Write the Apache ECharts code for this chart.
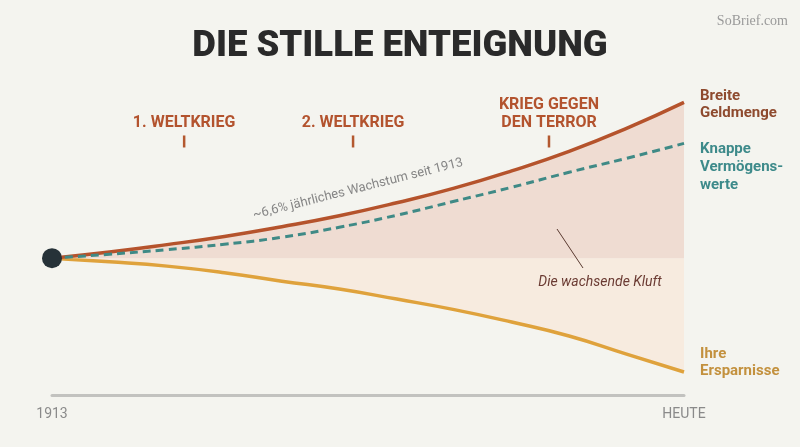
<!DOCTYPE html>
<html>
<head>
<meta charset="utf-8">
<script src="https://cdn.jsdelivr.net/npm/echarts@6/dist/echarts.min.js"></script>
<style>
  html, body { margin: 0; padding: 0; background: #f4f4ef; }
  #chart { width: 800px; height: 447px; }
</style>
</head>
<body>
<div id="chart"></div>
<script>
// Jahre (1913 bis heute), Index 1913 = 100
var years = [1913, 1923, 1933, 1943, 1953, 1963, 1973, 1983, 1993, 2003, 2013, 2023];
var geldmenge = [100, 104.5, 109.9, 115.9, 123, 131, 140.5, 151.2, 163.8, 178.1, 194.9, 213.9];
var vermoegen = [100, 102.9, 106.2, 110.2, 115.3, 122.6, 131.4, 141.6, 151.8, 162.8, 173, 183.9];
var ersparnisse = [100, 97.4, 94.2, 89.4, 83.2, 77.4, 70.1, 62.4, 53.3, 43.1, 29.9, 16.8];

// Ereignisse auf der Zeitachse
var eventNames = ['1. WELTKRIEG', '2. WELTKRIEG', 'KRIEG GEGEN\nDEN TERROR'];
var eventYears = [1936, 1965.4, 1999.5];
var eventLevel = 185.3;

var xLabels = [1913, 2023];

function pairs(ys) {
    return years.map(function (y, i) { return [y, ys[i]]; });
}

var chart = echarts.init(document.getElementById('chart'));

var option = {
    backgroundColor: '#f4f4ef',
    animation: false,
    title: {
        text: 'DIE STILLE ENTEIGNUNG',
        left: 'center',
        top: 23,
        textStyle: {
            fontFamily: 'Roboto',
            fontSize: 36.5,
            fontWeight: 900,
            color: '#2a2a2a'
        }
    },
    grid: { left: 52, right: 116, top: 94, bottom: 52 },
    xAxis: {
        type: 'value',
        min: 1913,
        max: 2023,
        splitLine: { show: false },
        axisLine: { show: true, lineStyle: { color: '#c2c2bf', width: 3 } },
        axisTick: { show: false },
        axisLabel: {
            customValues: xLabels,
            margin: 12,
            color: '#8a8a8a',
            fontFamily: 'Roboto',
            fontSize: 14,
            formatter: function (v) { return v === 2023 ? 'HEUTE' : String(v); }
        }
    },
    yAxis: {
        type: 'value',
        min: 0,
        max: 220,
        show: false
    },
    series: [
        {
            name: 'Ihre Ersparnisse',
            type: 'line',
            smooth: true,
            symbol: 'none',
            data: pairs(ersparnisse),
            lineStyle: { color: '#dfa23c', width: 3.5 },
            areaStyle: { origin: 100, color: '#f7ebdf', opacity: 1 },
            endLabel: {
                show: true,
                formatter: 'Ihre\nErsparnisse',
                distance: 16,
                offset: [0, -9],
                align: 'left',
                color: '#c3913e',
                fontFamily: 'Roboto',
                fontWeight: 'bold',
                fontSize: 15,
                lineHeight: 17
            },
            z: 2
        },
        {
            name: 'Breite Geldmenge',
            type: 'line',
            smooth: true,
            symbol: 'none',
            data: pairs(geldmenge),
            lineStyle: { color: '#b5532c', width: 3.5 },
            areaStyle: { origin: 100, color: '#efdcd2', opacity: 1 },
            endLabel: {
                show: true,
                formatter: 'Breite\nGeldmenge',
                distance: 16,
                offset: [0, 2],
                align: 'left',
                color: '#8e4a2e',
                fontFamily: 'Roboto',
                fontWeight: 'bold',
                fontSize: 15,
                lineHeight: 17
            },
            z: 3
        },
        {
            name: 'Knappe Vermögenswerte',
            type: 'line',
            smooth: true,
            symbol: 'none',
            data: pairs(vermoegen),
            lineStyle: { color: '#3f8a86', width: 3, type: [8, 5] },
            endLabel: {
                show: true,
                formatter: 'Knappe\nVermögens-\nwerte',
                distance: 16,
                offset: [0, 24],
                align: 'left',
                color: '#3d8a8a',
                fontFamily: 'Roboto',
                fontWeight: 'bold',
                fontSize: 15,
                lineHeight: 18
            },
            z: 4
        },
        {
            name: 'Ereignisse',
            type: 'scatter',
            symbol: 'rect',
            symbolSize: [2.5, 12],
            itemStyle: { color: '#b3582f', opacity: 1 },
            data: eventYears.map(function (y, i) {
                return { name: eventNames[i], value: [y, eventLevel] };
            }),
            label: {
                show: true,
                position: 'top',
                distance: 3,
                formatter: '{b}',
                color: '#b3532e',
                fontFamily: 'Roboto',
                fontWeight: 'bold',
                fontSize: 16,
                lineHeight: 18,
                align: 'center'
            },
            z: 5
        },
        {
            name: 'Start',
            type: 'scatter',
            symbol: 'circle',
            symbolSize: 20,
            itemStyle: { color: '#263238', opacity: 1 },
            data: [[years[0], geldmenge[0]]],
            z: 6
        }
    ],
    graphic: [
        {
            type: 'text',
            z: 100,
            x: 358,
            y: 189,
            rotation: 14.2 * Math.PI / 180,
            style: {
                text: '~6,6% jährliches Wachstum seit 1913',
                x: 0, y: 0,
                align: 'center',
                verticalAlign: 'middle',
                fill: '#858585',
                font: '13px Roboto'
            }
        },
        {
            type: 'line',
            z: 100,
            shape: { x1: 557, y1: 229, x2: 583, y2: 268 },
            style: { stroke: '#5a3a30', lineWidth: 1 }
        },
        {
            type: 'text',
            z: 100,
            x: 600,
            y: 282,
            style: {
                text: 'Die wachsende Kluft',
                align: 'center',
                verticalAlign: 'middle',
                fill: '#6b3b33',
                font: 'italic 14px Roboto'
            }
        },
        {
            type: 'text',
            z: 100,
            x: 788,
            y: 21,
            style: {
                text: 'SoBrief.com',
                align: 'right',
                verticalAlign: 'middle',
                fill: '#9a9a9a',
                font: '14px "Liberation Serif"'
            }
        }
    ]
};

chart.setOption(option);
</script>
</body>
</html>
